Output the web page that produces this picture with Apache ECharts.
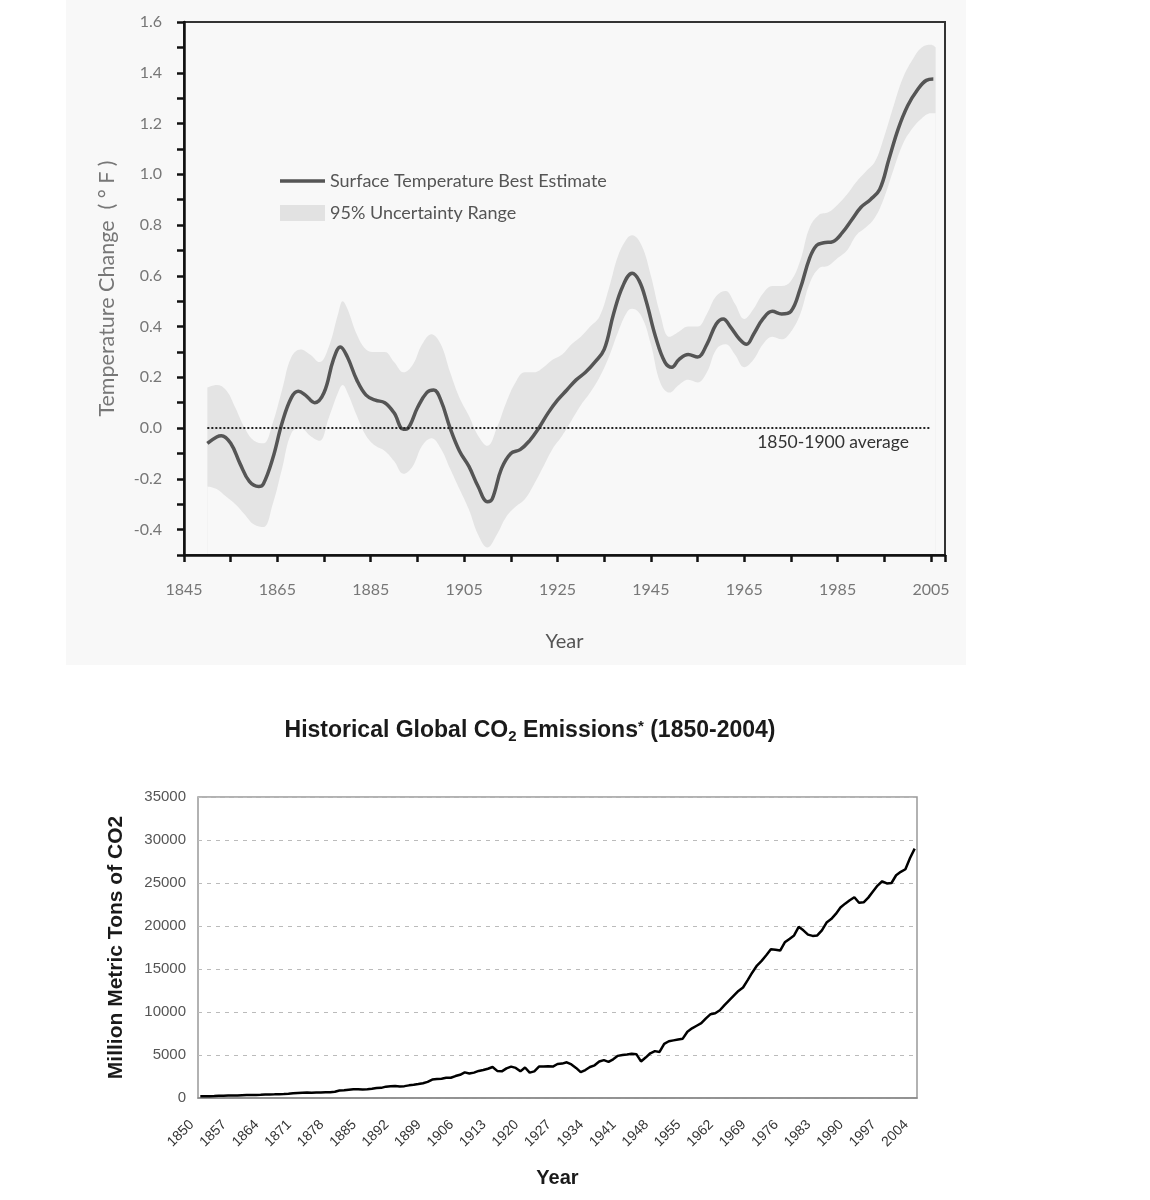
<!DOCTYPE html>
<html>
<head>
<meta charset="utf-8">
<script src="https://cdn.jsdelivr.net/npm/echarts@6/dist/echarts.min.js"></script>
<style>
html,body{margin:0;padding:0;background:#fff;}
#chart{width:1150px;height:1200px;}
</style>
</head>
<body>
<div id="chart"></div>
<script>
// ---------- Top chart: surface temperature ----------
const tempYears = [1850,1852,1853,1855,1857,1859,1861,1862,1864,1866,1868,1869.5,1871,1873,1875,1877,1878.5,1880,1882,1884,1886,1888,1890,1892,1893,1895,1897,1898.5,1900,1902,1904,1906,1908,1910,1911,1913,1915,1917,1919,1921,1923,1925,1927,1929,1931,1933,1935,1937,1939,1941,1942.5,1944,1946,1948,1949.5,1951,1953,1955,1957,1959,1960.5,1962,1964,1965.5,1967,1969,1971,1973,1975,1977,1979,1980.5,1982,1984,1986,1988,1990,1992,1994,1996,1998,2000,2002,2004,2005.5];
const tempValues = [-0.06,-0.035,-0.03,-0.06,-0.14,-0.21,-0.23,-0.22,-0.12,0.02,0.12,0.145,0.13,0.10,0.14,0.27,0.32,0.28,0.19,0.13,0.11,0.10,0.06,-0.005,0.0,0.08,0.14,0.15,0.11,0.00,-0.09,-0.15,-0.23,-0.29,-0.28,-0.16,-0.10,-0.085,-0.05,0.0,0.06,0.11,0.15,0.19,0.22,0.26,0.31,0.45,0.56,0.61,0.58,0.50,0.36,0.26,0.24,0.27,0.29,0.28,0.33,0.41,0.43,0.40,0.35,0.33,0.37,0.43,0.46,0.45,0.46,0.55,0.67,0.72,0.73,0.735,0.77,0.82,0.87,0.90,0.94,1.06,1.18,1.27,1.33,1.37,1.375];

const bandYears = [1850,1852,1854,1856,1858,1860,1862,1864,1866,1868,1870,1872,1874,1876,1878,1879,1880,1882,1884,1886,1888,1890,1892,1894,1896,1898,1900,1902,1904,1906,1908,1910,1912,1914,1916,1918,1920,1922,1924,1926,1928,1930,1932,1934,1936,1938,1940,1941,1943,1945,1947,1949,1951,1953,1955,1957,1959,1961,1963,1965,1967,1969,1971,1973,1975,1977,1979,1981,1983,1985,1987,1989,1991,1993,1995,1997,1999,2001,2003,2005,2006];
const bandUpper = [0.16,0.17,0.15,0.08,0.00,-0.05,-0.06,0.02,0.15,0.28,0.31,0.29,0.26,0.32,0.45,0.50,0.47,0.37,0.31,0.30,0.30,0.26,0.22,0.25,0.33,0.37,0.33,0.22,0.12,0.05,-0.03,-0.07,0.00,0.10,0.18,0.22,0.22,0.24,0.27,0.29,0.33,0.36,0.40,0.44,0.55,0.68,0.75,0.76,0.72,0.60,0.45,0.36,0.38,0.40,0.40,0.45,0.52,0.54,0.49,0.43,0.47,0.53,0.56,0.56,0.58,0.66,0.79,0.84,0.85,0.88,0.92,0.97,1.01,1.05,1.15,1.27,1.38,1.45,1.50,1.51,1.50];
const bandLower = [-0.23,-0.24,-0.27,-0.30,-0.34,-0.38,-0.39,-0.30,-0.16,-0.02,0.00,-0.03,-0.05,0.04,0.14,0.17,0.14,0.05,-0.03,-0.07,-0.09,-0.13,-0.18,-0.15,-0.07,-0.04,-0.08,-0.16,-0.24,-0.32,-0.42,-0.47,-0.42,-0.35,-0.31,-0.28,-0.22,-0.15,-0.08,-0.03,0.03,0.09,0.14,0.20,0.28,0.38,0.46,0.47,0.44,0.33,0.18,0.14,0.17,0.19,0.18,0.22,0.31,0.33,0.29,0.24,0.27,0.33,0.36,0.35,0.38,0.45,0.57,0.63,0.64,0.67,0.70,0.76,0.79,0.83,0.91,1.02,1.12,1.18,1.22,1.24,1.24];

const baselineRange = [1850, 2005];

// ---------- Bottom chart: CO2 emissions ----------
const co2Years = [];
for (let y = 1850; y <= 2004; y++) co2Years.push(String(y));
const co2Values = [
  // 1850-1859
  198,200,215,235,260,262,285,290,290,315,
  // 1860-1869
  335,345,345,370,400,420,430,450,460,490,
  // 1870-1879
  540,580,620,640,610,640,650,670,680,720,
  // 1880-1889
  865,900,960,1020,1010,1000,1010,1070,1160,1180,
  // 1890-1899
  1320,1360,1390,1340,1380,1470,1530,1620,1720,1880,
  // 1900-1909
  2150,2200,2250,2350,2350,2550,2700,2980,2850,2950,
  // 1910-1919
  3150,3250,3400,3600,3150,3100,3450,3650,3500,3100,
  // 1920-1929
  3550,2950,3100,3650,3650,3700,3650,3950,4000,4150,
  // 1930-1939
  3900,3500,3000,3250,3600,3800,4250,4400,4200,4500,
  // 1940-1949
  4900,5000,5050,5150,5100,4250,4700,5200,5450,5350,
  // 1950-1959
  6300,6600,6700,6800,6900,7700,8100,8400,8700,9250,
  // 1960-1969
  9750,9850,10200,10800,11350,11900,12450,12850,13700,14600,
  // 1970-1979
  15400,15950,16600,17300,17250,17150,18100,18500,18900,19900,
  // 1980-1989
  19500,19000,18850,18900,19500,20400,20800,21400,22150,22600,
  // 1990-1999
  23000,23350,22700,22750,23300,24000,24700,25200,24950,25000,
  // 2000-2004
  25900,26300,26600,27900,29000
];

const co2YTicks = [0, 35000, 5000]; // min, max, step

// ---------- build series data ----------
const lineData = tempYears.map((y, i) => [y, tempValues[i]]);
const upperData = bandYears.map((y, i) => [y, bandUpper[i]]);
const lowerData = bandYears.map((y, i) => [y, bandLower[i]]);

const topFont = 'Lato, "Open Sans", sans-serif';
const botFont = '"Liberation Sans", Arial, sans-serif';
const panelBg = '#f8f8f8';

const chart = echarts.init(document.getElementById('chart'), null, {renderer: 'canvas'});
chart.setOption({
  animation: false,
  backgroundColor: '#ffffff',
  graphic: [{
    type: 'rect', z: -100, silent: true,
    shape: {x: 66, y: 0, width: 900, height: 665},
    style: {fill: panelBg}
  }],
  title: {
    text: 'Historical Global CO{sub|2} Emissions{sup|*} (1850-2004)',
    left: 525, top: 712, textAlign: 'center',
    textStyle: {
      fontFamily: botFont, fontWeight: 'bold', fontSize: 23, color: '#1a1a1a',
      rich: {
        sub: {fontFamily: botFont, fontWeight: 'bold', fontSize: 15, color: '#1a1a1a', padding: [12, 0, 0, 0]},
        sup: {fontFamily: botFont, fontWeight: 'bold', fontSize: 15, color: '#1a1a1a', padding: [0, 0, 8, 0]}
      }
    }
  },
  legend: {
    orient: 'vertical', left: 275, top: 167,
    itemWidth: 45, itemHeight: 16, itemGap: 14,
    symbolKeepAspect: true,
    textStyle: {fontFamily: topFont, fontSize: 18, color: '#555'},
    data: [
      {name: 'Surface Temperature Best Estimate', icon: 'path://M0,0 L45,0 L45,3.5 L0,3.5 Z', itemStyle: {color: '#555'}},
      {name: '95% Uncertainty Range', icon: 'rect', itemStyle: {color: '#e2e2e2'}}
    ]
  },
  grid: [
    {left: 184, top: 22, width: 761, height: 533, show: true, borderColor: '#333', borderWidth: 2, backgroundColor: 'transparent'},
    {left: 198, top: 797, width: 719, height: 301, show: true, borderColor: '#999', borderWidth: 1.5, backgroundColor: '#fff'}
  ],
  xAxis: [
    {
      gridIndex: 0, type: 'value', min: 1845, max: 2008, interval: 10,
      name: 'Year', nameLocation: 'middle', nameGap: 77,
      nameTextStyle: {fontFamily: topFont, fontSize: 20, color: '#555'},
      axisLine: {onZero: false, lineStyle: {color: '#111', width: 2.5}},
      axisTick: {length: 7, lineStyle: {color: '#111', width: 2.5}},
      axisLabel: {
        margin: 27, fontFamily: topFont, fontSize: 16, color: '#777',
        formatter: v => ((v - 1845) % 20 === 0 ? String(v) : '')
      },
      splitLine: {show: false}
    },
    {
      gridIndex: 1, type: 'category', data: co2Years, boundaryGap: true,
      name: 'Year', nameLocation: 'middle', nameGap: 70,
      nameTextStyle: {fontFamily: botFont, fontWeight: 'bold', fontSize: 20, color: '#1a1a1a'},
      axisLine: {onZero: false, lineStyle: {color: '#888', width: 1.5}},
      axisTick: {interval: 0, length: 4, lineStyle: {color: '#666', width: 1}},
      axisLabel: {interval: 6, rotate: 45, margin: 16, padding: [0, 12, 0, 0], fontFamily: botFont, fontSize: 14, color: '#333'},
      splitLine: {show: false}
    }
  ],
  yAxis: [
    {
      gridIndex: 0, type: 'value', min: -0.5, max: 1.6, interval: 0.1,
      name: 'Temperature Change  ( ° F )', nameLocation: 'middle', nameGap: 66,
      nameTextStyle: {fontFamily: topFont, fontSize: 21.5, color: '#777'},
      axisLine: {lineStyle: {color: '#111', width: 2.5}},
      axisTick: {length: 7, lineStyle: {color: '#111', width: 2.5}},
      axisLabel: {
        margin: 22, fontFamily: topFont, fontSize: 16, color: '#777',
        formatter: v => { const k = Math.round(v * 10); return (k % 2 === 0) ? (k / 10).toFixed(1) : ''; }
      },
      splitLine: {show: false}
    },
    {
      gridIndex: 1, type: 'value', min: co2YTicks[0], max: co2YTicks[1], interval: co2YTicks[2],
      name: 'Million Metric Tons of CO2', nameLocation: 'middle', nameGap: 71,
      nameTextStyle: {fontFamily: botFont, fontWeight: 'bold', fontSize: 21, color: '#1a1a1a'},
      axisLine: {lineStyle: {color: '#555', width: 2}},
      axisTick: {length: 5, lineStyle: {color: '#555', width: 1.5}},
      axisLabel: {margin: 12, fontFamily: botFont, fontSize: 15, color: '#555', formatter: v => String(v)},
      splitLine: {show: true, lineStyle: {color: '#bbb', type: [4, 5], width: 1}}
    }
  ],
  series: [
    {
      name: '95% Uncertainty Range', type: 'line', xAxisIndex: 0, yAxisIndex: 0,
      data: upperData, smooth: 0.4, symbol: 'none',
      itemStyle: {color: '#e2e2e2'},
      lineStyle: {width: 0, opacity: 0},
      areaStyle: {color: '#e4e4e4', opacity: 1, origin: 'start'},
      z: -3, silent: true
    },
    {
      name: 'lower', type: 'line', xAxisIndex: 0, yAxisIndex: 0,
      data: lowerData, smooth: 0.4, symbol: 'none',
      lineStyle: {width: 0, opacity: 0},
      areaStyle: {color: panelBg, opacity: 1, origin: 'start'},
      z: -2, silent: true
    },
    {
      name: 'Surface Temperature Best Estimate', type: 'line', xAxisIndex: 0, yAxisIndex: 0,
      data: lineData, smooth: 0.4, symbol: 'none',
      itemStyle: {color: '#555'},
      lineStyle: {color: '#555', width: 3.5}, z: 3,
      markLine: {
        silent: true, symbol: 'none',
        lineStyle: {color: '#222', type: [2, 2], width: 2},
        label: {
          show: true, position: 'insideEndBottom', formatter: '1850-1900 average',
          fontFamily: topFont, fontSize: 17.5, color: '#333', padding: [0, 17, 0, 0]
        },
        data: [[{coord: [baselineRange[0], 0]}, {coord: [baselineRange[1], 0]}]]
      }
    },
    {
      name: 'CO2 Emissions', type: 'line', xAxisIndex: 1, yAxisIndex: 1,
      data: co2Values, symbol: 'none', smooth: false,
      lineStyle: {color: '#000', width: 2.5}, z: 3
    }
  ]
});
</script>
</body>
</html>
